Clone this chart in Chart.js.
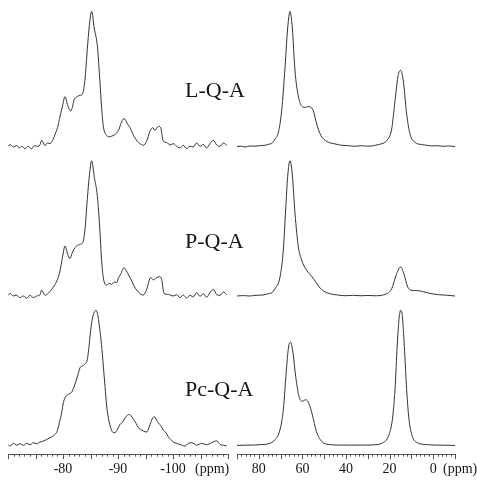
<!DOCTYPE html>
<html lang="en">
<head>
    <meta charset="UTF-8">
    <title>NMR spectra</title>
    <style>
        body { margin: 0; background: #fff; }
        #wrap { position: relative; width: 477px; height: 480px; }
        #wrap canvas { position: absolute; top: 0; }
        #leftChart { left: 0; }
        #rightChart { left: 232px; }
        .tag { position: absolute; left: 185px; font: 22px/22px "Liberation Serif", "Times New Roman", serif; color: #151515; white-space: nowrap; }
    </style>
</head>
<body>
<div id="wrap">
    <canvas id="leftChart" width="232" height="480"></canvas>
    <canvas id="rightChart" width="245" height="480"></canvas>
</div>

<script src="https://cdn.jsdelivr.net/npm/chart.js"></script>
<script>
    // sample names, top to bottom
    const sampleNames = ['L-Q-A', 'P-Q-A', 'Pc-Q-A'];

    // axis labels (ppm)
    const leftTicks = [-100, -90, -80];
    const rightTicks = [0, 20, 40, 60, 80];

    // left panel spectra: [ppm, relative intensity]
    const leftLQA = [
        [-70.06, 0.5], [-70.36, 1.5], [-70.97, -0.2], [-71.58, 0.8], [-72.06, -1.0], [-72.49, 0.2],
        [-73.09, -1.5], [-73.70, 0.2], [-74.30, -1.7], [-74.79, 0.7], [-75.33, 0.2], [-75.80, 1.2],
        [-76.12, 4.7], [-76.73, 0.7], [-77.15, 2.7], [-77.64, 2.2], [-78.10, 4.5], [-78.55, 9.0],
        [-79.00, 14.0], [-79.33, 20.0], [-79.90, 30.0], [-80.36, 37.0], [-80.85, 30.5], [-81.39, 26.3],
        [-81.70, 29.0], [-82.00, 34.5], [-82.40, 36.5], [-82.79, 37.5], [-83.20, 38.0], [-83.58, 39.2],
        [-84.00, 50.0], [-84.42, 72.0], [-84.79, 89.6], [-85.21, 100], [-85.70, 87.0], [-86.24, 74.7],
        [-86.73, 47.0], [-87.00, 30.0], [-87.33, 15.0], [-87.94, 8.2], [-88.30, 7.2], [-88.85, 7.7],
        [-89.30, 8.6], [-89.76, 10.0], [-90.20, 13.0], [-90.48, 16.4], [-91.09, 20.8], [-91.40, 19.5],
        [-91.70, 17.0], [-92.18, 14.0], [-92.50, 11.0], [-92.91, 7.7], [-93.50, 4.0], [-94.00, 2.2],
        [-94.61, 1.0], [-95.21, 4.0], [-95.82, 11.4], [-96.30, 14.0], [-96.73, 12.0], [-97.33, 15.0],
        [-97.76, 14.0], [-98.24, 4.0], [-98.85, 3.0], [-99.45, 1.2], [-100.06, 2.2], [-100.67, 0.2],
        [-101.27, -1.0], [-101.88, 1.0], [-102.48, -1.5], [-103.09, 0.2], [-103.70, -0.2], [-104.30, 2.7],
        [-104.91, 0.2], [-105.52, 1.5], [-106.12, -1.0], [-106.73, 2.2], [-107.33, 4.7], [-107.94, 1.2],
        [-108.55, 0.2], [-109.15, 2.7], [-109.76, 1.0]
    ];
    const leftPQA = [
        [-70.06, 0.5], [-70.36, 2.0], [-70.97, 0], [-71.58, 0.7], [-72.18, -1.2], [-72.79, 0],
        [-73.39, -1.7], [-74.00, 0.5], [-74.61, -1.2], [-75.21, 0], [-75.82, 1.0], [-76.12, 4.4],
        [-76.73, 0.5], [-77.33, 2.0], [-77.94, 4.9], [-78.55, 8.6], [-79.00, 12.3], [-79.45, 18.5],
        [-79.90, 28.4], [-80.36, 37.0], [-80.85, 30.9], [-81.27, 27.7], [-81.64, 31.6], [-82.00, 34.6],
        [-82.79, 37.8], [-83.58, 39.5], [-84.00, 49.4], [-84.42, 71.6], [-84.79, 88.9], [-85.21, 100],
        [-85.70, 87.7], [-86.24, 74.1], [-86.73, 46.9], [-87.00, 27.2], [-87.33, 13.6], [-87.94, 7.9],
        [-88.40, 9.4], [-88.85, 8.6], [-89.30, 10.4], [-89.76, 9.9], [-90.10, 13.6], [-90.48, 16.0],
        [-91.09, 21.0], [-91.40, 19.3], [-91.70, 17.3], [-92.18, 13.6], [-92.50, 11.1], [-92.91, 7.4],
        [-93.40, 4.4], [-94.00, 1.7], [-94.61, 0.7], [-95.21, 4.9], [-95.94, 13.6], [-96.42, 11.9],
        [-97.03, 13.6], [-97.52, 14.3], [-97.94, 12.3], [-98.36, 2.0], [-99.15, 1.2], [-100.06, 0],
        [-100.67, 1.0], [-101.27, -1.2], [-101.88, 0.7], [-102.48, -1.5], [-103.09, 0.5], [-103.70, -0.7],
        [-104.30, 2.5], [-104.91, -0.2], [-105.52, 1.7], [-106.12, -1.0], [-106.73, 2.5], [-107.33, 4.9],
        [-107.94, 1.0], [-108.55, 0.5], [-109.15, 3.0], [-109.76, 1.0]
    ];
    const leftPcQA = [
        [-70.06, 0.3], [-70.36, -0.5], [-70.97, 1.5], [-71.58, 0.2], [-72.18, 1.2], [-72.79, 0],
        [-73.39, 1.5], [-74.00, 0.5], [-74.61, 2.0], [-75.21, 1.2], [-75.82, 2.5], [-76.42, 3.2],
        [-77.03, 4.4], [-77.64, 5.7], [-78.55, 8.1], [-79.00, 11.3], [-79.33, 16.7], [-79.76, 24.1],
        [-80.06, 31.5], [-80.67, 37.0], [-81.15, 38.2], [-81.58, 39.4], [-82.00, 43.3], [-82.36, 47.5],
        [-82.79, 53.2], [-83.09, 57.4], [-83.70, 59.1], [-84.06, 60.6], [-84.42, 63.5], [-84.67, 70.9],
        [-84.91, 80.8], [-85.21, 90.6], [-85.52, 96.8], [-86.00, 100], [-86.30, 96.8], [-86.61, 88.2],
        [-87.00, 74.6], [-87.33, 58.6], [-87.64, 43.8], [-87.94, 29.1], [-88.30, 19.2], [-88.67, 13.1],
        [-89.00, 9.9], [-89.45, 9.4], [-89.90, 11.8], [-90.36, 15.5], [-90.85, 17.2], [-91.27, 20.4],
        [-91.70, 22.2], [-92.06, 22.9], [-92.42, 21.7], [-92.79, 19.2], [-93.30, 16.3], [-93.70, 13.1],
        [-94.10, 11.8], [-94.61, 10.6], [-95.21, 9.9], [-95.50, 11.8], [-95.82, 15.5], [-96.24, 19.7],
        [-96.61, 21.2], [-97.03, 18.7], [-97.33, 16.7], [-97.76, 14.8], [-98.24, 11.3], [-98.73, 9.4],
        [-99.15, 6.4], [-99.58, 4.4], [-100.06, 2.5], [-100.67, 1.5], [-101.27, 0.7], [-102.18, -0.5],
        [-102.79, 1.5], [-103.39, 2.0], [-104.30, 0.2], [-105.21, 1.5], [-106.12, 0.5], [-107.03, 2.0],
        [-107.94, 3.4], [-108.55, 0.7], [-109.15, 0.2], [-109.76, -0.5]
    ];

    // right panel spectra: [ppm, relative intensity]
    const rightLQA = [
        [90.15, 0], [88.0, 0.3], [86.3, -0.3], [84.0, 0.5], [81.74, 0.3], [79.0, 0.8], [77.0, 1.0],
        [75.63, 1.7], [74.0, 2.5], [72.57, 5.6], [71.04, 10.5], [69.51, 26.5], [67.98, 58.3],
        [66.76, 87.7], [65.69, 100], [64.62, 87.7], [63.39, 55.9], [61.87, 37.5], [60.34, 30.0],
        [58.81, 29.0], [57.5, 29.6], [56.51, 29.4], [54.98, 26.5], [53.45, 16.7], [51.47, 8.1],
        [48.87, 3.9], [45.05, 2.0], [42.0, 1.0], [39.0, 0.7], [36.0, 0.2], [33.0, 0.7], [30.0, 0.3],
        [27.0, 0.8], [25.17, 1.5], [23.0, 2.5], [21.35, 4.4], [19.05, 13.0], [17.52, 33.8],
        [15.99, 53.4], [14.92, 56.4], [13.70, 48.5], [12.17, 24.0], [10.64, 9.3], [8.35, 3.2],
        [5.29, 1.5], [3.0, 1.0], [0.5, 0.5], [-2.0, 0.7], [-4.5, 0.2], [-7.0, 0.5], [-10.0, 0]
    ];
    const rightPQA = [
        [90.15, 0], [87.0, 0.3], [84.0, 0], [81.74, 0.5], [78.5, 0.7], [75.63, 1.7], [74.0, 2.5],
        [72.57, 5.4], [70.28, 14.0], [68.75, 34.0], [67.68, 63.6], [66.76, 88.4], [65.69, 100],
        [64.62, 89.6], [63.39, 61.0], [61.87, 36.4], [60.34, 26.5], [58.04, 19.0], [55.75, 14.6],
        [53.91, 10.4], [51.16, 4.7], [47.34, 1.7], [44.0, 0.8], [40.46, 0.2], [37.0, 0.5], [33.0, 0.2],
        [30.0, 0.4], [26.7, 0.2], [22.11, 1.2], [19.05, 5.4], [16.76, 16.6], [14.92, 21.5],
        [13.39, 16.1], [11.71, 6.7], [9.88, 4.2], [7.5, 4.0], [5.29, 3.5], [2.23, 2.2], [-2.36, 1.0],
        [-6.0, 0.6], [-10.0, 0]
    ];
    const rightPcQA = [
        [90.15, 0], [86.0, 0.2], [82.0, 0.3], [78.0, 0.7], [75.63, 1.2], [72.57, 4.2], [70.28, 11.6],
        [68.75, 26.4], [67.22, 58.5], [66.15, 74.6], [65.38, 76.3], [64.31, 68.4], [63.09, 51.1],
        [61.56, 36.3], [60.03, 32.6], [58.5, 33.8], [56.97, 30.9], [55.44, 22.7], [53.6, 10.4],
        [51.16, 3.0], [48.1, 0.7], [44.0, 0.3], [37.4, 0.2], [30.0, 0.3], [26.7, 0.5], [22.88, 2.2],
        [20.58, 6.7], [18.74, 19.0], [17.52, 41.2], [16.45, 75.8], [15.54, 95.6], [14.92, 100],
        [14.16, 95.6], [13.24, 73.3], [12.17, 41.2], [11.1, 19.0], [9.57, 6.7], [7.58, 2.2],
        [2.23, 0.5], [-4.0, 0.2], [-10.0, 0]
    ];

    // label positions (px from top) for the sample names
    const tagTops = [79, 230, 378];
    sampleNames.forEach((name, i) => {
        const d = document.createElement('div');
        d.className = 'tag';
        d.style.top = tagTops[i] + 'px';
        d.textContent = name;
        document.getElementById('wrap').appendChild(d);
    });

    // draws minor/major tick marks and the "(ppm)" unit on the x axis
    const ppmAxis = {
        id: 'ppmAxis',
        afterDraw(chart, args, opts) {
            const sx = chart.scales.x;
            const ctx = chart.ctx;
            const y0 = chart.chartArea.bottom;
            const n = Math.round((sx.max - sx.min) / opts.minor);
            ctx.save();
            ctx.strokeStyle = '#555';
            ctx.lineWidth = 1;
            ctx.beginPath();
            for (let k = 0; k <= n; k++) {
                const v = sx.min + k * opts.minor;
                const px = Math.round(sx.getPixelForValue(v)) + 0.5;
                const len = Math.abs(v % opts.major) < 1e-6 ? 5 : 2.5;
                ctx.moveTo(px, y0);
                ctx.lineTo(px, y0 + len);
            }
            ctx.stroke();
            ctx.fillStyle = '#151515';
            ctx.font = '14px "Liberation Serif"';
            ctx.textAlign = 'left';
            ctx.textBaseline = 'alphabetic';
            ctx.fillText('(ppm)', sx.getPixelForValue(opts.unitAt), y0 + 19.2);
            ctx.restore();
        }
    };

    function rowAxis() {
        return { type: 'linear', position: 'right', stack: 'rows', stackWeight: 1, display: false, min: -6.5, max: 104 };
    }

    function drawPanel(id, spectra, xMin, xMax, ticks, minor, major, unitAt, padding) {
        return new Chart(document.getElementById(id), {
            type: 'line',
            data: {
                datasets: spectra.map((pts, i) => ({
                    data: pts.map(p => ({ x: p[0], y: p[1] })),
                    yAxisID: 'row' + i,
                    borderColor: '#333',
                    borderWidth: 1,
                    pointRadius: 0,
                    cubicInterpolationMode: 'monotone',
                    fill: false
                }))
            },
            options: {
                responsive: false,
                animation: false,
                devicePixelRatio: 1,
                layout: { padding: padding },
                plugins: {
                    legend: { display: false },
                    tooltip: { enabled: false },
                    ppmAxis: { minor: minor, major: major, unitAt: unitAt }
                },
                scales: {
                    x: {
                        type: 'linear',
                        reverse: true,
                        min: xMin,
                        max: xMax,
                        grid: { display: false, drawTicks: false, tickLength: 0 },
                        border: { display: true, color: '#555', width: 1 },
                        afterBuildTicks: ax => { ax.ticks = ticks.map(v => ({ value: v })); },
                        ticks: {
                            autoSkip: false,
                            maxRotation: 0,
                            padding: 6.5,
                            color: '#151515',
                            font: { family: 'Liberation Serif', size: 14 },
                            callback: v => String(v)
                        }
                    },
                    row0: rowAxis(),
                    row1: rowAxis(),
                    row2: rowAxis()
                }
            },
            plugins: [ppmAxis]
        });
    }

    // chart.js counts tick padding twice in the axis height, hence the negative bottom padding
    drawPanel('leftChart', [leftLQA, leftPQA, leftPcQA], -110, -70, leftTicks, 1, 5, -104,
        { left: 8, right: 4, top: 6, bottom: -4 });
    drawPanel('rightChart', [rightLQA, rightPQA, rightPcQA], -10, 90, rightTicks, 2, 10, -4.5,
        { left: 5, right: 22, top: 6, bottom: -4 });
</script>
</body>
</html>
